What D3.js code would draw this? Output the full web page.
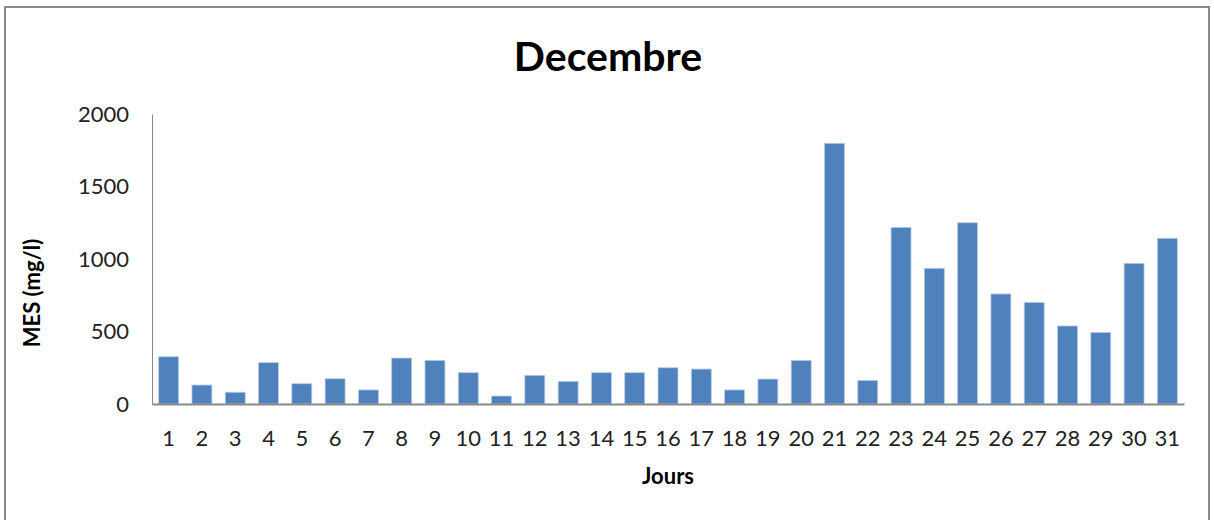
<!DOCTYPE html>
<html>
<head>
<meta charset="utf-8">
<script src="https://cdn.jsdelivr.net/npm/d3@7/dist/d3.min.js"></script>
<style>
  html, body { margin: 0; padding: 0; background: #fff; }
  svg { display: block; }
</style>
</head>
<body>
<svg id="chart" width="1214" height="520"></svg>
<script>
const days = ["1","2","3","4","5","6","7","8","9","10","11","12","13","14","15","16","17","18","19","20","21","22","23","24","25","26","27","28","29","30","31"];
const mes = [326,131,81,285,140,174,97,317,301,216,55,198,156,216,216,250,241,97,172,301,1798,163,1218,936,1250,759,701,538,494,970,1143];
const yTicks = [0,500,1000,1500,2000];
const title = "Decembre";
const yTitle = "MES (mg/l)";
const xTitle = "Jours";

const svg = d3.select("#chart");
const font = "Lato, 'Open Sans', sans-serif";
const axisColor = "#898989";

svg.append("rect")
  .attr("x", 5).attr("y", 7).attr("width", 1204).attr("height", 540)
  .attr("fill", "#fff").attr("stroke", "#8a8a8a").attr("stroke-width", 2);

const plotL = 152, plotR = 1184, plotT = 114, plotB = 404;

const x = d3.scaleBand().domain(days).range([plotL, plotR]).paddingInner(0.4).paddingOuter(0.2);
const y = d3.scaleLinear().domain([0, 2000]).range([plotB, plotT]);

svg.append("g").selectAll("rect").data(mes).join("rect")
  .attr("x", (d, i) => x(days[i]))
  .attr("width", x.bandwidth())
  .attr("y", d => y(d))
  .attr("height", d => y(0) - y(d))
  .attr("fill", "#4f81bd")
  .attr("stroke", "#b9cde6")
  .attr("stroke-width", 0.8);

const yAxis = svg.append("g").attr("transform", `translate(${plotL},0)`)
  .call(d3.axisLeft(y).tickValues(yTicks).tickSize(0).tickPadding(23).tickFormat(d3.format("d")));
yAxis.select(".domain").attr("stroke", axisColor).attr("stroke-width", 1);
yAxis.selectAll("text").attr("font-family", font).attr("font-size", 22).attr("fill", "#222");

const xAxis = svg.append("g").attr("transform", `translate(0,${plotB})`)
  .call(d3.axisBottom(x).tickSize(0).tickPadding(26));
xAxis.select(".domain").attr("stroke", axisColor).attr("stroke-width", 2);
xAxis.selectAll("text").attr("font-family", font).attr("font-size", 22).attr("fill", "#222");

svg.append("text").text(title)
  .attr("x", 608).attr("y", 71).attr("text-anchor", "middle")
  .attr("font-family", font).attr("font-weight", "bold").attr("font-size", 41).attr("fill", "#000");

svg.append("text").text(xTitle)
  .attr("x", 668).attr("y", 484).attr("text-anchor", "middle")
  .attr("font-family", font).attr("font-weight", "bold").attr("font-size", 22).attr("fill", "#000");

svg.append("text").text(yTitle)
  .attr("transform", "translate(40,293) rotate(-90)").attr("text-anchor", "middle")
  .attr("font-family", font).attr("font-weight", "bold").attr("font-size", 22).attr("fill", "#000");
</script>
</body>
</html>
